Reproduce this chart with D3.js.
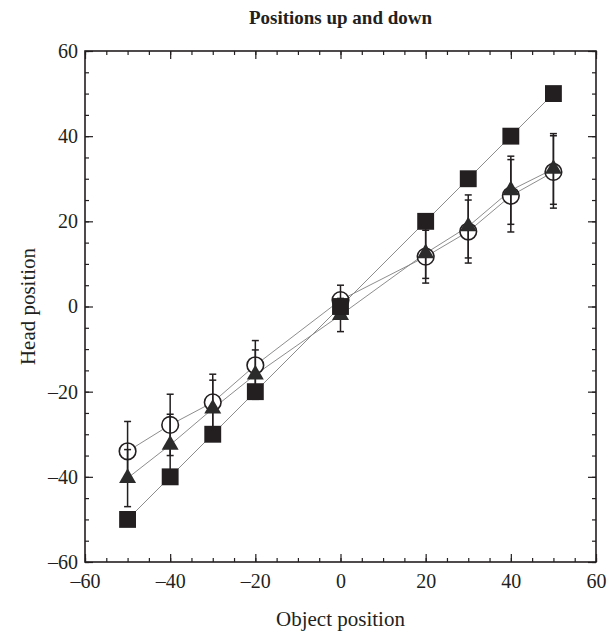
<!DOCTYPE html>
<html>
<head>
<meta charset="utf-8">
<script src="https://cdn.jsdelivr.net/npm/d3@7"></script>
<style>
  body { margin: 0; background: #fff; }
  text { font-family: "Liberation Serif", "DejaVu Serif", serif; fill: #231f20; }
</style>
</head>
<body>
<div id="chart"></div>
<script>
// values
const objectPos = [-50, -40, -30, -20, 0, 20, 30, 40, 50];
const squareVals = [-50, -40, -30, -20, 0, 20, 30, 40, 50];
const circleVals = [-34, -27.8, -22.5, -13.8, 1.5, 11.7, 17.6, 26, 31.6];
const circleErr = [7, 7.2, 6.6, 5.8, 3.5, 6.2, 7.4, 8.5, 8.5];
const triangleVals = [-40.3, -32.5, -24, -16, -2, 12.5, 18.8, 27.3, 32.3];
const triangleErr = [6.7, 7.2, 6.7, 5.8, 3.9, 5.9, 7.4, 8, 8.3];
const xTicks = [-60, -40, -20, 0, 20, 40, 60];
const yTicks = [-60, -40, -20, 0, 20, 40, 60];
const minorTicks = d3.range(-60, 61, 5);

let W = 613, H = 633;
let margin = {top: 51, right: 17, bottom: 71, left: 85};
let ink = "#231f20";

let svg = d3.select("#chart").append("svg")
	.attr("width", W)
	.attr("height", H);

let x = d3.scaleLinear().domain([-60, 60]).range([margin.left, W - margin.right]);
let y = d3.scaleLinear().domain([-60, 60]).range([H - margin.bottom, margin.top]);

let fmt = d => d < 0 ? "\u2013" + Math.abs(d) : "" + d;

// frame
svg.append("rect")
	.attr("x", x(-60)).attr("y", y(60))
	.attr("width", x(60) - x(-60)).attr("height", y(-60) - y(60))
	.attr("fill", "none").attr("stroke", ink).attr("stroke-width", 1.6);

function drawAxis(axisFn, transform, ticks, size, labels) {
	let g = svg.append("g")
		.attr("transform", transform)
		.call(axisFn.tickValues(ticks).tickSize(size).tickPadding(labels ? 14 : 0)
			.tickFormat(labels ? fmt : ""));
	g.select(".domain").remove();
	g.selectAll(".tick line").attr("stroke", ink).attr("stroke-width", 1.2);
	g.selectAll(".tick text")
		.style("font-family", '"Liberation Serif", serif')
		.style("font-size", "20px")
		.attr("fill", ink);
	return g;
}

// bottom & top
drawAxis(d3.axisBottom(x), `translate(0,${y(-60)})`, minorTicks, -4, false);
let xg = drawAxis(d3.axisBottom(x), `translate(0,${y(-60)})`, xTicks, -8, true);
xg.selectAll(".tick text").attr("dy", "0.71em").attr("y", 12);
drawAxis(d3.axisTop(x), `translate(0,${y(60)})`, minorTicks, -4, false);
drawAxis(d3.axisTop(x), `translate(0,${y(60)})`, xTicks, -8, false);

// left & right
drawAxis(d3.axisLeft(y), `translate(${x(-60)},0)`, minorTicks, -4, false);
let yg = drawAxis(d3.axisLeft(y), `translate(${x(-60)},0)`, yTicks, -8, true);
yg.selectAll(".tick text").attr("x", -7);
drawAxis(d3.axisRight(y), `translate(${x(60)},0)`, minorTicks, -4, false);
drawAxis(d3.axisRight(y), `translate(${x(60)},0)`, yTicks, -8, false);

// titles
svg.append("text")
	.attr("x", (x(-60) + x(60)) / 2).attr("y", 24)
	.attr("text-anchor", "middle")
	.style("font-size", "19px").style("font-weight", "bold")
	.text("Positions up and down");

svg.append("text")
	.attr("x", (x(-60) + x(60)) / 2).attr("y", 626)
	.attr("text-anchor", "middle")
	.style("font-size", "21px")
	.text("Object position");

svg.append("text")
	.attr("transform", `translate(35,${(y(-60) + y(60)) / 2}) rotate(-90)`)
	.attr("text-anchor", "middle")
	.style("font-size", "21px")
	.text("Head position");

// series
let rows = objectPos.map((p, i) => ({
	p: p, sq: squareVals[i],
	c: circleVals[i], ce: circleErr[i],
	t: triangleVals[i], te: triangleErr[i]
}));

let line = key => d3.line().x(d => x(d.p)).y(d => y(d[key]));

for (let key of ["c", "t", "sq"]) {
	svg.append("path")
		.datum(rows)
		.attr("d", line(key))
		.attr("fill", "none")
		.attr("stroke", "#808080")
		.attr("stroke-width", 0.9);
}

// open circles
svg.selectAll("circle.open")
	.data(rows)
	.enter().append("circle")
	.attr("class", "open")
	.attr("cx", d => x(d.p))
	.attr("cy", d => y(d.c))
	.attr("r", 8.3)
	.attr("fill", "white")
	.attr("stroke", ink)
	.attr("stroke-width", 1.6);

// error bars
function errorBars(valKey, errKey) {
	let g = svg.append("g").attr("stroke", ink).attr("stroke-width", 1.5);
	let cap = 3.5;
	rows.forEach(d => {
		let cx = x(d.p), lo = y(d[valKey] - d[errKey]), hi = y(d[valKey] + d[errKey]);
		g.append("line").attr("x1", cx).attr("x2", cx).attr("y1", lo).attr("y2", hi);
		g.append("line").attr("x1", cx - cap).attr("x2", cx + cap).attr("y1", lo).attr("y2", lo);
		g.append("line").attr("x1", cx - cap).attr("x2", cx + cap).attr("y1", hi).attr("y2", hi);
	});
}
errorBars("c", "ce");
errorBars("t", "te");

// triangles
svg.selectAll("path.tri")
	.data(rows)
	.enter().append("path")
	.attr("class", "tri")
	.attr("d", d3.symbol(d3.symbolTriangle, 125))
	.attr("transform", d => `translate(${x(d.p)},${y(d.t)})`)
	.attr("fill", "#2b2b2b");

// squares
svg.selectAll("path.sq")
	.data(rows)
	.enter().append("path")
	.attr("class", "sq")
	.attr("d", d3.symbol(d3.symbolSquare, 285))
	.attr("transform", d => `translate(${x(d.p)},${y(d.sq)})`)
	.attr("fill", ink);
</script>
</body>
</html>
